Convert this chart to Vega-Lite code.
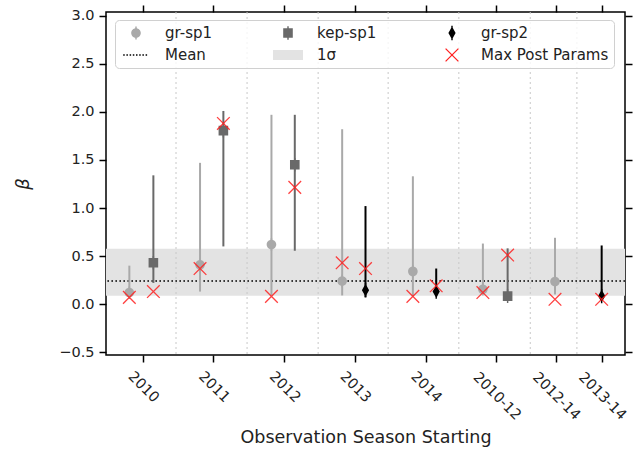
{
  "$schema": "https://vega.github.io/schema/vega-lite/v6.json",
  "width": 519,
  "height": 343,
  "autosize": {"type": "none"},
  "padding": {"left": 106, "top": 12, "right": 13, "bottom": 94},
  "background": "white",
  "config": {
    "font": "DejaVu Sans",
    "view": {"stroke": "#000000", "strokeWidth": 1.5},
    "axis": {"grid": false, "domain": false, "ticks": true, "tickColor": "#000000", "tickWidth": 1.5, "tickSize": 7, "tickOpacity": 1, "labelColor": "#222222", "titleColor": "#222222", "labelFontSize": 14.5, "titleFontWeight": "normal", "labelOverlap": false}
  },
  "datasets": {
    "est": [
      {"season": "2010", "series": "gr-sp1", "pos": -0.19, "beta": 0.12, "lo": 0.08, "hi": 0.40, "maxpost": 0.07},
      {"season": "2010", "series": "kep-sp1", "pos": 0.15, "beta": 0.43, "lo": 0.22, "hi": 1.34, "maxpost": 0.13},
      {"season": "2011", "series": "gr-sp1", "pos": 0.81, "beta": 0.41, "lo": 0.13, "hi": 1.47, "maxpost": 0.37},
      {"season": "2011", "series": "kep-sp1", "pos": 1.14, "beta": 1.805, "lo": 0.60, "hi": 2.01, "maxpost": 1.88},
      {"season": "2012", "series": "gr-sp1", "pos": 1.82, "beta": 0.62, "lo": 0.09, "hi": 1.97, "maxpost": 0.08},
      {"season": "2012", "series": "kep-sp1", "pos": 2.15, "beta": 1.45, "lo": 0.555, "hi": 1.97, "maxpost": 1.215},
      {"season": "2013", "series": "gr-sp1", "pos": 2.82, "beta": 0.24, "lo": 0.09, "hi": 1.82, "maxpost": 0.43},
      {"season": "2013", "series": "gr-sp2", "pos": 3.15, "beta": 0.145, "lo": 0.07, "hi": 1.02, "maxpost": 0.37},
      {"season": "2014", "series": "gr-sp1", "pos": 3.82, "beta": 0.34, "lo": 0.08, "hi": 1.33, "maxpost": 0.08},
      {"season": "2014", "series": "gr-sp2", "pos": 4.15, "beta": 0.13, "lo": 0.08, "hi": 0.37, "maxpost": 0.19},
      {"season": "2010-12", "series": "gr-sp1", "pos": 4.81, "beta": 0.155, "lo": 0.10, "hi": 0.63, "maxpost": 0.12},
      {"season": "2010-12", "series": "kep-sp1", "pos": 5.16, "beta": 0.083, "lo": 0.08, "hi": 0.58, "maxpost": 0.51},
      {"season": "2012-14", "series": "gr-sp1", "pos": 5.83, "beta": 0.235, "lo": 0.10, "hi": 0.69, "maxpost": 0.05},
      {"season": "2013-14", "series": "gr-sp2", "pos": 6.49, "beta": 0.083, "lo": 0.04, "hi": 0.61, "maxpost": 0.05}
    ],
    "summary": [{"mean": 0.24, "lo": 0.087, "hi": 0.575}],
    "separators": [{"b": 0.47}, {"b": 1.475}, {"b": 2.48}, {"b": 3.47}, {"b": 4.47}, {"b": 5.48}, {"b": 6.14}]
  },
  "layer": [
    {
      "data": {"name": "summary"},
      "mark": {"type": "rect", "color": "#e3e3e3"},
      "encoding": {
        "y": {"field": "lo", "type": "quantitative", "scale": {"domain": [-0.53, 3.04], "nice": false, "zero": false},
              "axis": {"orient": "right", "values": [-0.5, 0, 0.5, 1, 1.5, 2, 2.5, 3], "labels": false, "title": null, "ticks": true, "tickSize": 7, "tickWidth": 1.5, "tickColor": "#000000"}},
        "y2": {"field": "hi"}
      }
    },
    {
      "data": {"name": "summary"},
      "mark": {"type": "rule", "color": "#000000", "strokeWidth": 1.6, "strokeDash": [1.6, 2.4]},
      "encoding": {
        "y": {"field": "mean", "type": "quantitative", "scale": {"domain": [-0.53, 3.04], "nice": false, "zero": false}, "axis": null}
      }
    },
    {
      "data": {"name": "separators"},
      "mark": {"type": "rule", "color": "#c8c8c8", "strokeWidth": 1, "strokeDash": [2, 3]},
      "encoding": {
        "x": {"field": "b", "type": "quantitative", "scale": {"domain": [-0.52, 6.82], "nice": false, "zero": false},
              "axis": {"orient": "top", "values": [0, 1, 2, 3, 4, 5, 5.84, 6.49], "labels": false, "title": null, "ticks": true, "tickSize": 7, "tickWidth": 1.5, "tickColor": "#000000"}}
      }
    },
    {
      "data": {"name": "est"},
      "mark": {"type": "rule", "strokeWidth": 2},
      "encoding": {
        "x": {"field": "pos", "type": "quantitative", "scale": {"domain": [-0.52, 6.82], "nice": false, "zero": false}, "axis": null},
        "y": {"field": "lo", "type": "quantitative", "scale": {"domain": [-0.53, 3.04], "nice": false, "zero": false}, "axis": null},
        "y2": {"field": "hi"},
        "color": {"field": "series", "type": "nominal",
                  "scale": {"domain": ["gr-sp1", "kep-sp1", "gr-sp2", "Mean", "1σ", "Max Post Params"],
                            "range": ["#a9a9a9", "#696969", "#000000", "#000000", "#e3e3e3", "#ff2020"]}}
      }
    },
    {
      "data": {"name": "est"},
      "mark": {"type": "point", "filled": true, "opacity": 1, "size": 256, "strokeWidth": 0},
      "encoding": {
        "x": {"field": "pos", "type": "quantitative", "scale": {"domain": [-0.52, 6.82], "nice": false, "zero": false},
              "axis": {"orient": "bottom", "values": [0, 1, 2, 3, 4, 5, 5.84, 6.49],
                       "labelExpr": "datum.value < 4.5 ? format(datum.value + 2010, 'd') : datum.value < 5.5 ? '2010-12' : datum.value < 6.2 ? '2012-14' : '2013-14'",
                       "labelAngle": 45, "labelAlign": "center", "labelBaseline": "middle",
                       "labelPadding": {"condition": {"test": "datum.value > 4.5", "value": 34}, "value": 25},
                       "ticks": true, "tickSize": 7, "tickWidth": 1.5, "tickColor": "#000000",
                       "title": "Observation Season Starting", "titleFontSize": 17.5, "titlePadding": 6}},
        "y": {"field": "beta", "type": "quantitative", "scale": {"domain": [-0.53, 3.04], "nice": false, "zero": false},
              "axis": {"orient": "left", "values": [-0.5, 0, 0.5, 1, 1.5, 2, 2.5, 3], "format": ".1f", "labelPadding": 5,
                       "ticks": true, "tickSize": 7, "tickWidth": 1.5, "tickColor": "#000000",
                       "title": "β", "titleFontStyle": "italic", "titleFontSize": 18, "titlePadding": 26}},
        "shape": {"field": "series", "type": "nominal",
                  "scale": {"domain": ["gr-sp1", "kep-sp1", "gr-sp2", "Mean", "1σ", "Max Post Params"],
                            "range": [
                              "M0.6,0A0.6,0.6,0,1,1,-0.6,0A0.6,0.6,0,1,1,0.6,0ZM-0.09,-0.8H0.09V0.8H-0.09Z",
                              "M-0.6,-0.6H0.6V0.6H-0.6ZM-0.09,-0.85H0.09V0.85H-0.09Z",
                              "M0,-0.8L0.45,0L0,0.8L-0.45,0ZM-0.09,-0.9H0.09V0.9H-0.09Z",
                              "M-1.6,-0.1h0.19v0.2h-0.19ZM-1.2,-0.1h0.19v0.2h-0.19ZM-0.8,-0.1h0.19v0.2h-0.19ZM-0.4,-0.1h0.19v0.2h-0.19ZM0,-0.1h0.19v0.2h-0.19ZM0.4,-0.1h0.19v0.2h-0.19ZM0.8,-0.1h0.19v0.2h-0.19ZM1.2,-0.1h0.19v0.2h-0.19Z",
                              "M-1.875,-0.625H1.875V0.625H-1.875Z",
                              "M-0.743,-0.857L0.857,0.743L0.743,0.857L-0.857,-0.743ZM-0.857,0.743L0.743,-0.857L0.857,-0.743L-0.743,0.857Z"
                            ]}},
        "color": {"field": "series", "type": "nominal",
                  "scale": {"domain": ["gr-sp1", "kep-sp1", "gr-sp2", "Mean", "1σ", "Max Post Params"],
                            "range": ["#a9a9a9", "#696969", "#000000", "#000000", "#e3e3e3", "#ff2020"]},
                  "legend": {"title": null, "orient": "none", "legendX": 9, "legendY": 8, "columns": 3, "direction": "horizontal", "gridAlign": "each",
                             "symbolSize": 256, "symbolOffset": 8, "symbolStrokeWidth": 0, "labelOffset": 21, "labelFontSize": 15, "labelColor": "#222222",
                             "columnPadding": 59, "rowPadding": 6, "padding": 5, "symbolOpacity": 1,
                             "fillColor": "rgba(255,255,255,0.8)", "strokeColor": "#d0d0d0", "cornerRadius": 4}}
      }
    },
    {
      "data": {"name": "est"},
      "mark": {"type": "point", "filled": false, "shape": "M-1,-1L1,1M-1,1L1,-1", "size": 160, "color": "#ff2020", "strokeWidth": 1.3, "opacity": 0.85},
      "encoding": {
        "x": {"field": "pos", "type": "quantitative", "scale": {"domain": [-0.52, 6.82], "nice": false, "zero": false}, "axis": null},
        "y": {"field": "maxpost", "type": "quantitative", "scale": {"domain": [-0.53, 3.04], "nice": false, "zero": false}, "axis": null}
      }
    }
  ],
  "resolve": {"axis": {"x": "independent", "y": "independent"}}
}
